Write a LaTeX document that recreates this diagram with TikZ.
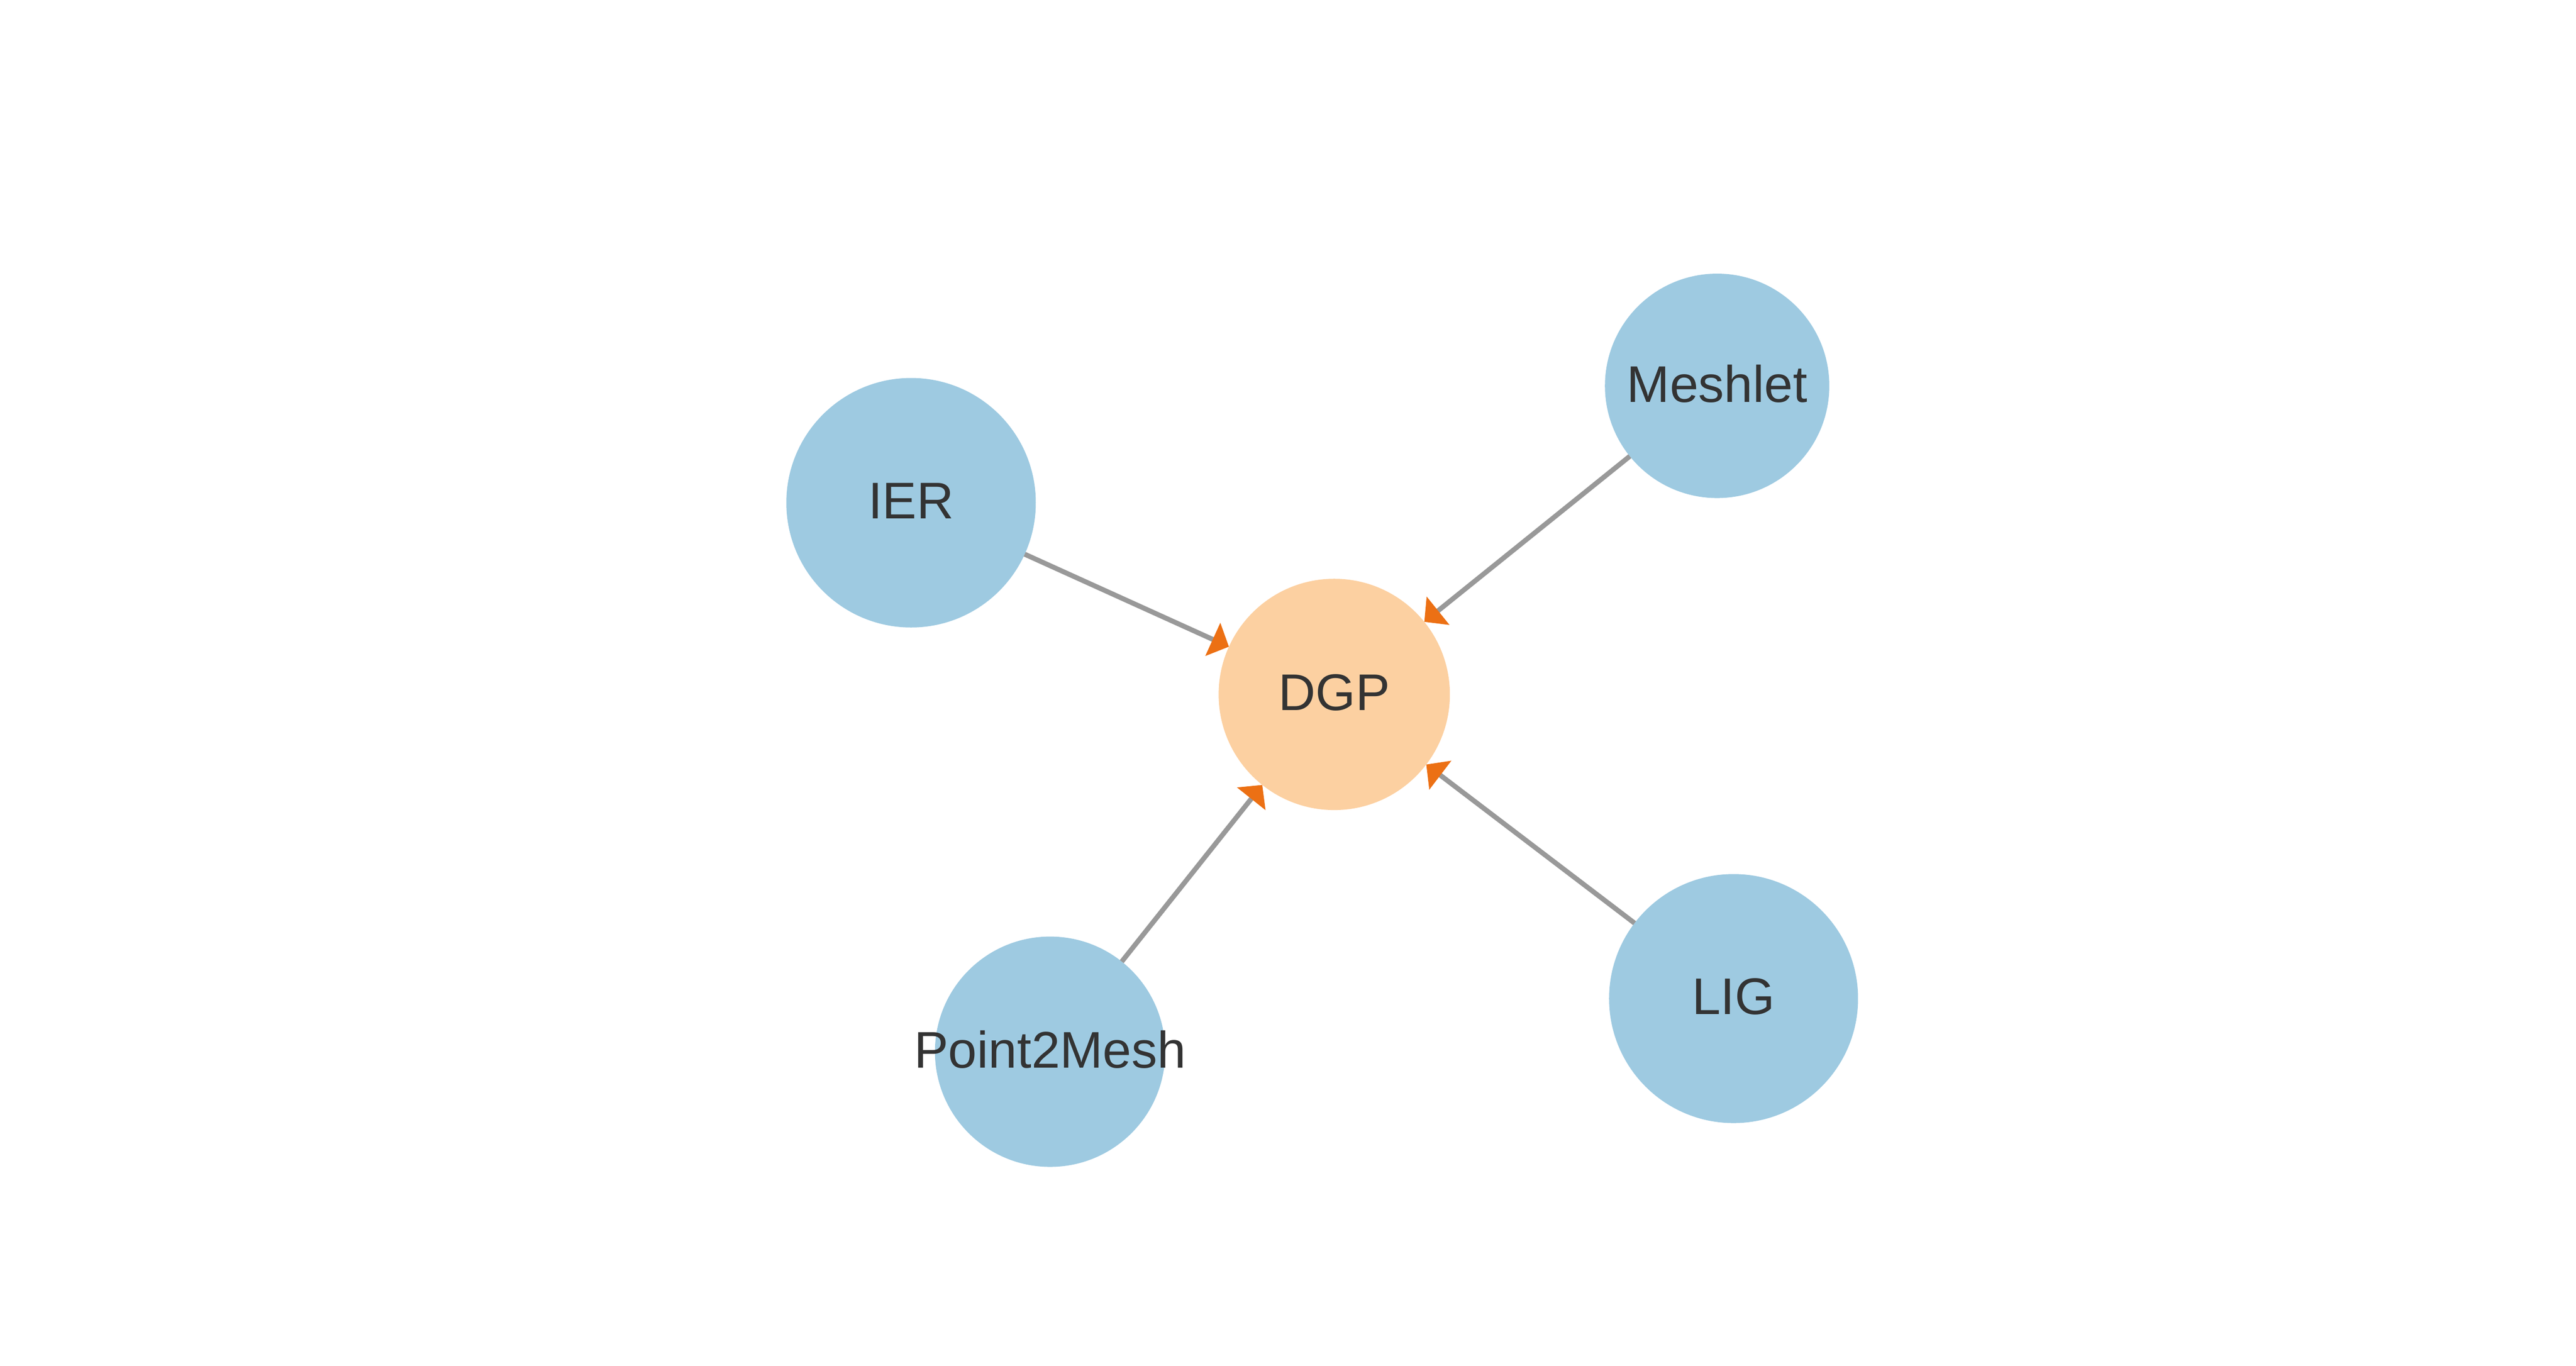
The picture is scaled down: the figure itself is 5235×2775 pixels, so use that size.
\documentclass[tikz,border=0pt]{standalone}
\usepackage{fontspec}
\setmainfont{Liberation Sans}
\usetikzlibrary{arrows.meta}
\definecolor{nodeblue}{HTML}{9ECAE1}
\definecolor{nodeorange}{HTML}{FCD0A1}
\definecolor{edgegray}{HTML}{999999}
\definecolor{tiporange}{HTML}{EC7014}
\definecolor{textdark}{HTML}{333333}
\begin{document}
\begin{tikzpicture}[x=0.1pt,y=-0.1pt,
  bubble/.style={circle, inner sep=0pt, outer sep=0pt, draw=none},
  blue bubble/.style={bubble, fill=nodeblue},
  orange bubble/.style={bubble, fill=nodeorange},
  lbl/.style={text=textdark, font=\fontsize{10.47pt}{12pt}\selectfont, inner sep=0pt, yshift=0.4pt},
  edge/.style={draw=edgegray, line width=1.0pt, -{Triangle[length=3.6pt,width=7.2pt,color=tiporange]}}]
\useasboundingbox (0,0) rectangle (5235,2775);
\node[orange bubble, minimum size=47pt, label={[lbl]center:DGP}] (dgp) at (2711.5,1411) {};
\node[blue bubble, minimum size=50.7pt, label={[lbl]center:IER}] (ier) at (1851.5,1021.5) {};
\node[blue bubble, minimum size=45.6pt, label={[lbl]center:Meshlet}] (meshlet) at (3489.6,784) {};
\node[blue bubble, minimum size=46.8pt, label={[lbl]center:Point2Mesh}] (p2m) at (2134,2137) {};
\node[blue bubble, minimum size=50.6pt, label={[lbl]center:LIG}] (lig) at (3523,2029) {};
\draw[edge] (ier) -- (dgp);
\draw[edge] (meshlet) -- (dgp);
\draw[edge] (p2m) -- (dgp);
\draw[edge] (lig) -- (dgp);
\end{tikzpicture}
\end{document}
